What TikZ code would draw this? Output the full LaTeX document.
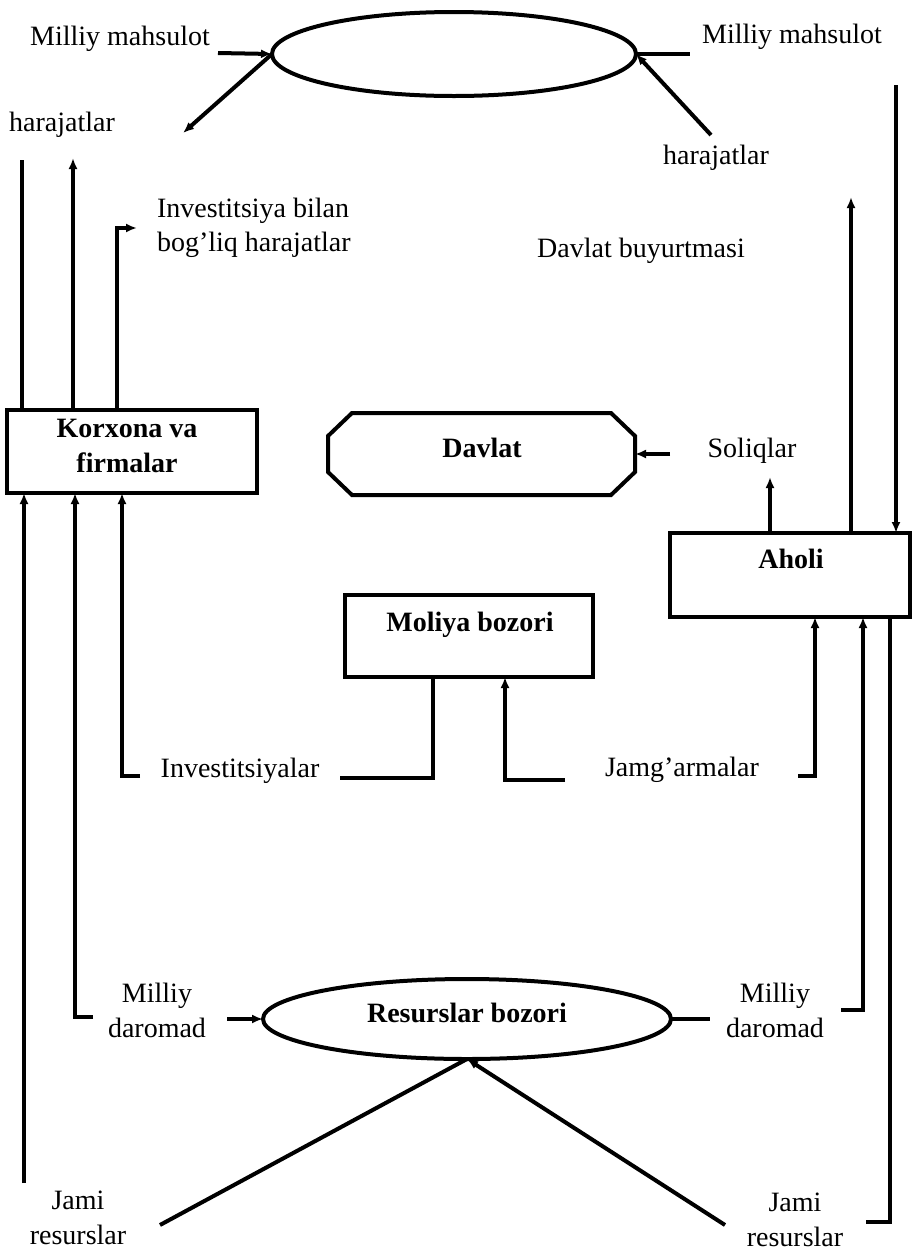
\documentclass[tikz,border=0pt]{standalone}
\usepackage{fontspec}
\setmainfont{Liberation Serif}
\usetikzlibrary{shapes.geometric,arrows.meta,calc}
\begin{document}
\begin{tikzpicture}[x=1pt,y=-1pt,
  every node/.style={inner sep=0pt, outer sep=0pt},
  lbl/.style={font=\fontsize{28}{34.5}\selectfont, align=center},
  blbl/.style={font=\fontsize{28}{35.5}\selectfont\bfseries, align=center},
  ln/.style={line width=4pt},
  arr/.style={ln, -{Latex[length=11pt,width=9pt]}},
  box/.style={draw, line width=4pt, rectangle},
  oval/.style={draw, line width=4pt, ellipse},
]
\useasboundingbox (0,0) rectangle (913,1251);

% ---- main shapes ----
\node[oval, minimum width=364pt, minimum height=84pt] (prod) at (454,54) {};
\node[box, minimum width=250pt, minimum height=83pt] (kf) at (132,451.5) {};
\node[blbl] (kft) at (127,446) {Korxona va\\firmalar};
\node[minimum width=307pt, minimum height=82pt] (dav) at (481.5,454) {};
\node[blbl, anchor=base] (davt) at (482,457) {Davlat};
\draw[ln] ($(dav.north west)+(24,0)$) -- ($(dav.north east)+(-24,0)$) -- ($(dav.north east)+(0,23)$) -- ($(dav.south east)+(0,-23)$) -- ($(dav.south east)+(-24,0)$) -- ($(dav.south west)+(24,0)$) -- ($(dav.south west)+(0,-23)$) -- ($(dav.north west)+(0,23)$) -- cycle;
\node[box, minimum width=248pt, minimum height=82pt] (mb) at (469,636) {};
\node[blbl, anchor=base] (mbt) at (470,631) {Moliya bozori};
\node[box, minimum width=240pt, minimum height=84pt] (ah) at (790,575) {};
\node[blbl, anchor=base] (aht) at (791,568) {Aholi};
\node[oval, minimum width=408pt, minimum height=80pt] (rb) at (467,1019) {};
\node[blbl, anchor=base] (rbt) at (467,1022) {Resurslar bozori};

% ---- labels ----
\node[lbl, anchor=base] (mmL) at (120,45) {Milliy mahsulot};
\node[lbl, anchor=base] (harL) at (62,131) {harajatlar};
\node[lbl, anchor=base] (mmR) at (792,43) {Milliy mahsulot};
\node[lbl, anchor=base] (harR) at (716,164) {harajatlar};
\node[lbl, align=left, anchor=west] (inv1) at (157,228) {Investitsiya bilan\\bog’liq harajatlar};
\node[lbl, anchor=base] (dbuy) at (641,257) {Davlat buyurtmasi};
\node[lbl, anchor=base] (sol) at (752,457) {Soliqlar};
\node[lbl, anchor=base] (invs) at (240,777) {Investitsiyalar};
\node[lbl, anchor=base] (jam) at (682,776) {Jamg’armalar};
\node[lbl] (mdL) at (157,1010.5) {Milliy\\daromad};
\node[lbl] (mdR) at (775,1010.5) {Milliy\\daromad};
\node[lbl] (jrL) at (78,1218) {Jami\\resurslar};
\node[lbl] (jrR) at (795,1220) {Jami\\resurslar};

% ---- top ellipse connectors ----
\coordinate (pL) at (218,53);
\draw[arr] (pL) -- (prod.west);
\coordinate (hL) at (183,133);
\draw[arr] (prod.west) -- (hL);
\coordinate (pR) at (690,54);
\draw[ln] (prod.east) -- (pR);
\coordinate (hR) at (711,135);
\draw[arr] (hR) -- (prod.east);

% ---- Korxona top ----
\coordinate (l1) at (22,160);
\draw[ln] (l1) -- (l1 |- kf.north);
\coordinate (l2) at (73,158);
\draw[arr] (l2 |- kf.north) -- (l2);
\coordinate (l3c) at (117,228);
\coordinate (l3) at (137,228);
\draw[arr] (l3c |- kf.north) -- (l3c) -- (l3);

% ---- Korxona bottom ----
\coordinate (b1) at (24,1183);
\draw[arr] (b1) -- (b1 |- kf.south);
\coordinate (b2) at (93,1017);
\coordinate (b2c) at (75,1017);
\draw[arr] (b2) -- (b2c) -- (b2c |- kf.south);
\coordinate (b3) at (140,776);
\coordinate (b3c) at (122,776);
\draw[arr] (b3) -- (b3c) -- (b3c |- kf.south);

% ---- Moliya ----
\coordinate (i1) at (340,778);
\coordinate (i1c) at (433,778);
\draw[ln] (i1) -- (i1c) -- (i1c |- mb.south);
\coordinate (j1) at (565,780);
\coordinate (j1c) at (505,780);
\draw[arr] (j1) -- (j1c) -- (j1c |- mb.south);

% ---- Davlat / Aholi ----
\coordinate (s1) at (670,454);
\draw[arr] (s1) -- (dav.east);
\coordinate (a1) at (770,477);
\draw[arr] (a1 |- ah.north) -- (a1);
\coordinate (a2) at (851,197);
\draw[arr] (a2 |- ah.north) -- (a2);
\coordinate (a3) at (896,85);
\draw[arr] (a3) -- (a3 |- ah.north);
\coordinate (a4) at (798,776);
\coordinate (a4c) at (815,776);
\draw[arr] (a4) -- (a4c) -- (a4c |- ah.south);
\coordinate (a5) at (841,1010);
\coordinate (a5c) at (863,1010);
\draw[arr] (a5) -- (a5c) -- (a5c |- ah.south);
\coordinate (a6c) at (890,1222);
\coordinate (a6) at (866,1222);
\draw[ln] (a6c |- ah.south) -- (a6c) -- (a6);

% ---- Resurslar ----
\coordinate (r1) at (227,1019);
\draw[arr] (r1) -- (rb.west);
\coordinate (r2) at (710,1019);
\draw[ln] (rb.east) -- (r2);
\coordinate (r3) at (160,1225);
\draw[ln] (r3) -- (rb.south);
\coordinate (r4) at (725,1225);
\draw[arr] (r4) -- (rb.south);
\end{tikzpicture}
\end{document}
